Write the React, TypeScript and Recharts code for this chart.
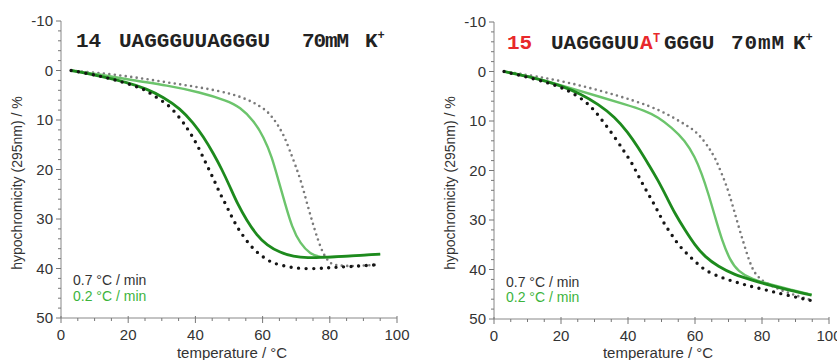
import {
  LineChart,
  Line,
  XAxis,
  YAxis,
} from 'recharts';

// temperature (°C) vs hypochromicity (%)
const xTicks = [0, 5, 10, 15, 20, 25, 30, 35, 40, 45, 50, 55, 60, 65, 70, 75, 80, 85, 90, 95, 100];
const yTicks = [-10, -8, -6, -4, -2, 0, 2, 4, 6, 8, 10, 12, 14, 16, 18, 20, 22, 24, 26, 28, 30, 32, 34, 36, 38, 40, 42, 44, 46, 48, 50];

// panel 14
const fast14Cool = [
  { t: 3, h: 0 }, { t: 8, h: 0.6 }, { t: 12, h: 1.2 }, { t: 16, h: 1.9 }, { t: 20, h: 2.7 },
  { t: 24.5, h: 3.7 }, { t: 27, h: 4.8 }, { t: 30, h: 6.1 }, { t: 32.7, h: 7.4 }, { t: 35.6, h: 9.8 },
  { t: 37.2, h: 11.3 }, { t: 38.9, h: 13.1 }, { t: 40.6, h: 15.1 }, { t: 42.2, h: 17.4 }, { t: 43.9, h: 19.8 },
  { t: 45.6, h: 22.2 }, { t: 47.2, h: 24.7 }, { t: 49, h: 27 }, { t: 50.7, h: 29.4 }, { t: 52.3, h: 31.5 },
  { t: 54.1, h: 33.3 }, { t: 55.9, h: 35 }, { t: 57.8, h: 36.4 }, { t: 59.8, h: 37.5 }, { t: 62.3, h: 38.7 },
  { t: 65.2, h: 39.3 }, { t: 69.2, h: 39.9 }, { t: 74.2, h: 40.1 }, { t: 79, h: 39.9 }, { t: 83, h: 39.7 },
  { t: 89, h: 39.5 }, { t: 95, h: 39.2 },
];
const slow14Cool = [
  { t: 3, h: 0 }, { t: 11.6, h: 1.1 }, { t: 19.6, h: 2.4 }, { t: 25.5, h: 3.7 }, { t: 30.5, h: 5.4 },
  { t: 35.5, h: 7.7 }, { t: 39.4, h: 10.6 }, { t: 42.4, h: 13.4 }, { t: 45.4, h: 16.8 }, { t: 47.9, h: 20 },
  { t: 50.3, h: 23.5 }, { t: 52.5, h: 26.9 }, { t: 55.3, h: 30.3 }, { t: 58.3, h: 33.3 }, { t: 61.3, h: 35.3 },
  { t: 65.2, h: 36.8 }, { t: 69.2, h: 37.6 }, { t: 73.2, h: 37.9 }, { t: 79.1, h: 37.7 }, { t: 86.1, h: 37.5 },
  { t: 95, h: 37.1 },
];
const slow14Heat = [
  { t: 3, h: 0 }, { t: 11.6, h: 0.8 }, { t: 21.5, h: 2.0 }, { t: 31.5, h: 3.0 }, { t: 41.4, h: 4.4 },
  { t: 49.4, h: 6.1 }, { t: 53.3, h: 7.4 }, { t: 57.3, h: 10.1 }, { t: 60.3, h: 13.4 }, { t: 62.8, h: 17.5 },
  { t: 64.7, h: 22.2 }, { t: 66.7, h: 26.9 }, { t: 68.7, h: 31.6 }, { t: 71.2, h: 35 }, { t: 74.2, h: 37.1 },
  { t: 77.2, h: 37.8 }, { t: 81, h: 37.7 }, { t: 88, h: 37.4 }, { t: 95, h: 37.1 },
];
const fast14Heat = [
  { t: 3, h: 0 }, { t: 11.6, h: 0.5 }, { t: 21.5, h: 1.3 }, { t: 31.5, h: 2.4 }, { t: 41.4, h: 3.4 },
  { t: 51.3, h: 4.7 }, { t: 57.3, h: 6.4 }, { t: 61.3, h: 8.1 }, { t: 63.3, h: 9.8 }, { t: 64.9, h: 11.4 },
  { t: 66.5, h: 13.4 }, { t: 68, h: 16 }, { t: 69.8, h: 19.2 }, { t: 71.6, h: 22.7 }, { t: 73.2, h: 26.8 },
  { t: 74.8, h: 30.6 }, { t: 76.5, h: 34.3 }, { t: 78, h: 37 }, { t: 79.7, h: 38.7 }, { t: 81.1, h: 39.3 },
  { t: 86, h: 39.6 }, { t: 95, h: 39.2 },
];

// panel 15
const fast15Cool = [
  { t: 3, h: 0 }, { t: 12.2, h: 1.5 }, { t: 19.1, h: 2.9 }, { t: 23.1, h: 4.2 }, { t: 27.1, h: 5.9 },
  { t: 30.1, h: 7.9 }, { t: 33.1, h: 10.6 }, { t: 36.1, h: 13.3 }, { t: 39, h: 16.3 }, { t: 41, h: 18.3 },
  { t: 42.5, h: 20.3 }, { t: 44.2, h: 22.5 }, { t: 46, h: 24.7 }, { t: 47.8, h: 26.8 }, { t: 49.5, h: 29 },
  { t: 51, h: 31 }, { t: 52.8, h: 32.7 }, { t: 54.5, h: 34.5 }, { t: 56.5, h: 36.1 }, { t: 58.5, h: 37.4 },
  { t: 60.5, h: 38.7 }, { t: 62.9, h: 40.1 }, { t: 65.9, h: 41.1 }, { t: 69.9, h: 42.1 }, { t: 74.9, h: 43.1 },
  { t: 80.9, h: 44.1 }, { t: 86.9, h: 45.1 }, { t: 94.8, h: 46.3 },
];
const slow15Cool = [
  { t: 3, h: 0 }, { t: 12.2, h: 1.3 }, { t: 20.1, h: 2.9 }, { t: 26.1, h: 4.6 }, { t: 31.1, h: 6.6 },
  { t: 36.1, h: 9.2 }, { t: 40, h: 12.3 }, { t: 43, h: 15.3 }, { t: 46, h: 18.6 }, { t: 49, h: 22 },
  { t: 51.5, h: 25.3 }, { t: 54, h: 28.7 }, { t: 57, h: 32 }, { t: 60, h: 35.1 }, { t: 62.9, h: 37.4 },
  { t: 66.9, h: 39.4 }, { t: 71.9, h: 41.1 }, { t: 76.9, h: 42.1 }, { t: 82.9, h: 43.3 }, { t: 88.8, h: 44.3 },
  { t: 94.8, h: 45.2 },
];
const slow15Heat = [
  { t: 3, h: 0 }, { t: 12.2, h: 1.2 }, { t: 22.1, h: 3.2 }, { t: 32, h: 5.2 }, { t: 39, h: 6.6 },
  { t: 45, h: 7.9 }, { t: 49, h: 9.2 }, { t: 53, h: 11.3 }, { t: 57, h: 13.9 }, { t: 60, h: 17.3 },
  { t: 62, h: 20.6 }, { t: 64, h: 24.7 }, { t: 66, h: 29.4 }, { t: 68, h: 34 }, { t: 70.4, h: 38.1 },
  { t: 72.9, h: 40.4 }, { t: 76.9, h: 42 }, { t: 82.9, h: 43.1 }, { t: 88.8, h: 44.1 }, { t: 94.8, h: 45.1 },
];
const fast15Heat = [
  { t: 3, h: 0 }, { t: 12.2, h: 0.9 }, { t: 22.1, h: 2.2 }, { t: 32, h: 3.9 }, { t: 42, h: 5.9 },
  { t: 50, h: 7.9 }, { t: 56, h: 10.3 }, { t: 60, h: 11.9 }, { t: 62.8, h: 14.1 }, { t: 64.5, h: 15.8 },
  { t: 66.1, h: 17.6 }, { t: 67.7, h: 20.2 }, { t: 69.4, h: 23 }, { t: 71.1, h: 26.7 }, { t: 72.7, h: 30.6 },
  { t: 74.4, h: 34.4 }, { t: 76.1, h: 38.1 }, { t: 77.7, h: 40.8 }, { t: 80.5, h: 42.6 }, { t: 86.9, h: 44.6 },
  { t: 94.8, h: 46.2 },
];

const SANS = "'Liberation Sans', Arial, sans-serif";
const MONO = "'Liberation Mono', 'Courier New', monospace";
const RED = '#e8282b';
const DARK_GREEN = '#1d8a1d';
const LIGHT_GREEN = '#6cc46c';

const YTick = (props: any) => {
  const { x, y, payload } = props;
  const major = payload.value % 10 === 0;
  return (
    <g>
      <line x1={x - (major ? 5 : 3)} x2={x} y1={y} y2={y} stroke="#777" />
      {major && (
        <text x={x - 8} y={y + 5} textAnchor="end" fontSize={15} fill="#333" fontFamily={SANS}>
          {payload.value}
        </text>
      )}
    </g>
  );
};

const XTick = (props: any) => {
  const { x, y, payload } = props;
  const major = payload.value % 20 === 0;
  return (
    <g>
      <line x1={x} x2={x} y1={y - (major ? 2 : 0)} y2={y + (major ? 5 : 3)} stroke="#777" />
      {major && (
        <text x={x} y={y + 22} textAnchor="middle" fontSize={15} fill="#333" fontFamily={SANS}>
          {payload.value}
        </text>
      )}
    </g>
  );
};

type PanelProps = {
  width: number;
  margin: { top: number; right: number; bottom: number; left: number };
  fastCool: { t: number; h: number }[];
  slowCool: { t: number; h: number }[];
  slowHeat: { t: number; h: number }[];
  fastHeat: { t: number; h: number }[];
};

const Panel = ({ width, margin, fastCool, slowCool, slowHeat, fastHeat }: PanelProps) => (
  <LineChart width={width} height={360} margin={margin}>
    <XAxis
      type="number"
      dataKey="t"
      domain={[0, 100]}
      ticks={xTicks}
      interval={0}
      height={30}
      stroke="#888"
      tickSize={0}
      tickMargin={0}
      tickLine={false}
      tick={<XTick />}
      allowDataOverflow
    />
    <XAxis
      xAxisId="top"
      orientation="top"
      type="number"
      domain={[0, 100]}
      height={0}
      tick={false}
      tickLine={false}
      stroke="#aaa"
    />
    <YAxis
      type="number"
      dataKey="h"
      domain={[-10, 50]}
      reversed
      ticks={yTicks}
      interval={0}
      width={40}
      stroke="#888"
      tickSize={0}
      tickMargin={0}
      tickLine={false}
      tick={<YTick />}
      allowDataOverflow
    />
    <YAxis
      yAxisId="right"
      orientation="right"
      type="number"
      domain={[-10, 50]}
      width={0}
      tick={false}
      tickLine={false}
      stroke="#aaa"
    />
    <Line
      data={fastHeat}
      dataKey="h"
      type="basis"
      stroke="#7a7a7a"
      strokeWidth={2.6}
      strokeDasharray="0 5.5"
      strokeLinecap="round"
      dot={false}
      isAnimationActive={false}
    />
    <Line
      data={slowHeat}
      dataKey="h"
      type="basis"
      stroke={LIGHT_GREEN}
      strokeWidth={2.4}
      dot={false}
      isAnimationActive={false}
    />
    <Line
      data={slowCool}
      dataKey="h"
      type="basis"
      stroke={DARK_GREEN}
      strokeWidth={2.8}
      dot={false}
      isAnimationActive={false}
    />
    <Line
      data={fastCool}
      dataKey="h"
      type="basis"
      stroke="#151515"
      strokeWidth={3.4}
      strokeDasharray="0 7.5"
      strokeLinecap="round"
      dot={false}
      isAnimationActive={false}
    />
  </LineChart>
);

const AxisTitles = ({ yx, xc }: { yx: number; xc: number }) => (
  <>
    <text
      x={yx}
      y={183}
      transform={`rotate(-90 ${yx} 183)`}
      textAnchor="middle"
      fontSize={14}
      fill="#333"
      fontFamily={SANS}
    >
      hypochromicity (295nm) / %
    </text>
    <text x={xc} y={358} textAnchor="middle" fontSize={15} fill="#333" fontFamily={SANS}>
      temperature / °C
    </text>
  </>
);

const App = () => {
  return (
    <div style={{ position: 'absolute', left: 0, top: 0, width: 837, height: 360, background: '#fff', overflow: 'hidden' }}>
      <div style={{ position: 'absolute', left: 0, top: 0 }}>
        <Panel
          width={418}
          margin={{ top: 21, right: 21, bottom: 12, left: 21 }}
          fastCool={fast14Cool}
          slowCool={slow14Cool}
          slowHeat={slow14Heat}
          fastHeat={fast14Heat}
        />
      </div>
      <div style={{ position: 'absolute', left: 418, top: 0 }}>
        <Panel
          width={419}
          margin={{ top: 22, right: 8, bottom: 11, left: 36 }}
          fastCool={fast15Cool}
          slowCool={slow15Cool}
          slowHeat={slow15Heat}
          fastHeat={fast15Heat}
        />
      </div>
      <svg
        width={837}
        height={360}
        style={{ position: 'absolute', left: 0, top: 0, pointerEvents: 'none' }}
      >
        {/* left panel labels */}
        <g fontFamily={MONO} fontWeight="bold" fontSize={21} fill="#222">
          <text x={76} y={47}>14</text>
          <text x={119} y={47}>UAGGGUUAGGGU</text>
          <text x={302} y={47} textLength={47}>70mM</text>
          <text x={365} y={47}>
            K<tspan fontSize={12} dy={-8}>+</tspan>
          </text>
        </g>
        <g fontFamily={SANS} fontSize={14}>
          <text x={73} y={285} fill="#333">0.7 °C / min</text>
          <text x={73} y={301} fill="#3cb43c">0.2 °C / min</text>
        </g>
        <AxisTitles yx={22} xc={232} />

        {/* right panel labels */}
        <g fontFamily={MONO} fontWeight="bold" fontSize={21} fill="#222">
          <text x={507} y={49} fill={RED}>15</text>
          <text x={551} y={49}>UAGGGUU</text>
          <text x={640} y={49} fill={RED}>A</text>
          <text x={653} y={42} fontSize={12} fill={RED}>T</text>
          <text x={664} y={49}>GGGU</text>
          <text x={731} y={49} textLength={53}>70mM</text>
          <text x={793} y={49}>
            K<tspan fontSize={12} dy={-8}>+</tspan>
          </text>
        </g>
        <g fontFamily={SANS} fontSize={14}>
          <text x={506} y={287} fill="#333">0.7 °C / min</text>
          <text x={506} y={302} fill="#3cb43c">0.2 °C / min</text>
        </g>
        <AxisTitles yx={455} xc={658} />
      </svg>
    </div>
  );
};

export default App;
